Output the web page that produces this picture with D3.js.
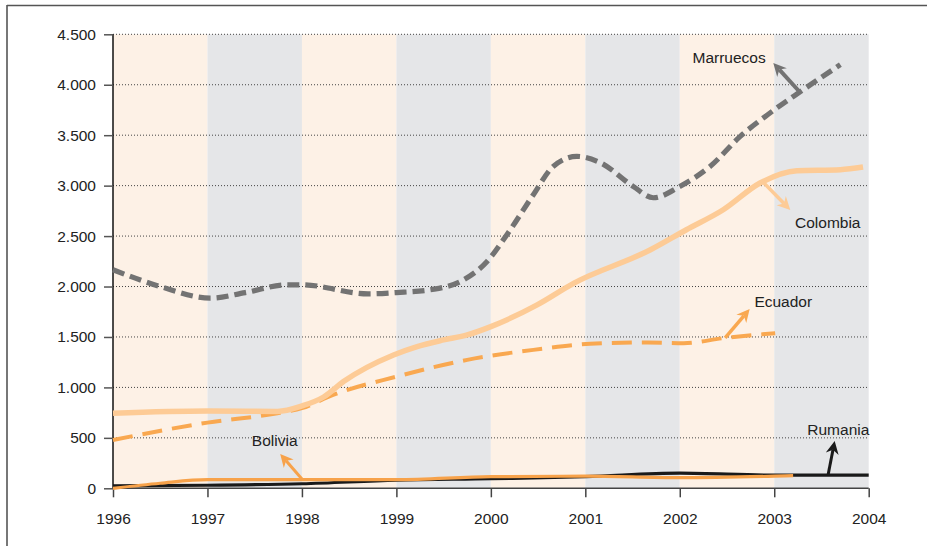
<!DOCTYPE html>
<html><head><meta charset="utf-8">
<script src="https://cdn.jsdelivr.net/npm/d3@7"></script>
<style>
html,body{margin:0;padding:0;background:#fff;}
svg{display:block;font-family:"Liberation Sans",Arial,sans-serif;}
</style></head>
<body><svg id="c" width="927" height="546"></svg>
<script>
// ---------- data ----------
const yTicks = [0,500,1000,1500,2000,2500,3000,3500,4000,4500];
const xTicks = [1996,1997,1998,1999,2000,2001,2002,2003,2004];

const marruecosYears  = [1996,1996.5,1997.03,1997.4,1997.84,1998.0,1998.7,1999.0,1999.4,1999.7,1999.96,2000.17,2000.45,2000.66,2000.91,2001.16,2001.51,2001.72,2002.0,2002.32,2002.64,2002.93,2003.28,2003.7];
const marruecosValues = [2166,2000,1885,1940,2017,2017,1927,1940,1974,2060,2248,2513,2910,3190,3290,3227,2990,2880,2992,3190,3488,3703,3934,4199];

const colombiaYears  = [1996,1997,1997.74,1998,1998.23,1998.44,1998.97,1999.22,1999.5,1999.75,2000.0,2000.49,2000.88,2001.69,2002.07,2002.46,2002.85,2003.24,2003.7,2003.94];
const colombiaValues = [745,767,762,816,905,1058,1322,1405,1471,1521,1603,1818,2034,2364,2563,2761,3026,3148,3158,3184];

const ecuadorYears  = [1996,1997,1997.74,1998,1998.33,1999.0,1999.75,2000.45,2001.05,2001.66,2002.04,2002.46,2003.01];
const ecuadorValues = [479,651,744,794,926,1107,1273,1372,1432,1445,1438,1488,1538];

const boliviaYears  = [1996,1996.5,1997,1998,1999,2000,2001,2002,2003,2003.2];
const boliviaValues = [0,50,85,85,85,115,120,105,120,125];

const rumaniaYears  = [1996,1997,1998,1999,2000,2001,2002,2003,2004];
const rumaniaValues = [25,30,45,80,95,115,150,130,130];

// annotations
const annoLabels = ["Marruecos","Colombia","Ecuador","Bolivia","Rumania"];
const annoFrom   = [[2003.27,3928],[2002.88,3036],[2002.48,1490],[1998.0,92],[2003.57,132]];
const annoTo     = [[2002.99,4216],[2003.17,2759],[2002.74,1778],[1997.77,340],[2003.64,469]];
const annoText   = [[2002.91,4216],[2003.22,2580],[2002.79,1799],[1997.47,419],[2003.35,529]];
const annoAnchor = ["end","start","start","start","start"];

// ---------- setup ----------
const svg = d3.select("#c");
const M = {left:113, right:868.7, top:34.3, bottom:488.3};
const x = d3.scaleLinear().domain([1996,2004]).range([M.left,M.right]);
const y = d3.scaleLinear().domain([0,4500]).range([M.bottom,M.top]);
const loc = d3.formatLocale({decimal:",",thousands:".",grouping:[3],currency:["","€"]});
const fmt = loc.format(",");
const FS = 15.5;

// frame
svg.append("line").attr("x1",7).attr("x2",927).attr("y1",5.5).attr("y2",5.5).attr("stroke","#555").attr("stroke-width",1.6);
svg.append("line").attr("x1",7).attr("x2",7).attr("y1",5).attr("y2",546).attr("stroke","#555").attr("stroke-width",1.6);

// bands
const bands = d3.range(1996,2004);
svg.append("g").selectAll("rect").data(bands).join("rect")
  .attr("x",d=>x(d)).attr("width",d=>x(d+1)-x(d))
  .attr("y",y(4500)).attr("height",y(0)-y(4500))
  .attr("fill",(d,i)=> i%2===0 ? "#fdf1e6" : "#e5e6e8");

// gridlines
svg.append("g").selectAll("line").data(yTicks.filter(d=>d>0)).join("line")
  .attr("x1",M.left).attr("x2",M.right).attr("y1",d=>y(d)).attr("y2",d=>y(d))
  .attr("stroke","#444").attr("stroke-width",1).attr("stroke-dasharray","1,2");

// axes
const yAxis = d3.axisLeft(y).tickValues(yTicks).tickFormat(fmt).tickSize(9).tickPadding(8);
const gy = svg.append("g").attr("transform",`translate(${M.left},0)`).call(yAxis);
gy.select(".domain").attr("stroke","#111").attr("stroke-width",1.5).attr("d",`M0,${y(4500)}V${y(0)}`);
gy.selectAll(".tick line").attr("stroke","#555").attr("stroke-width",1.5);
gy.selectAll(".tick text").attr("font-size",FS).attr("fill","#222").attr("font-family","Liberation Sans, Arial, sans-serif");

const xAxis = d3.axisBottom(x).tickValues(xTicks).tickFormat(d3.format("d")).tickSize(9).tickPadding(16);
const gx = svg.append("g").attr("transform",`translate(0,${M.bottom})`).call(xAxis);
gx.select(".domain").attr("stroke","#444").attr("stroke-width",1.5).attr("d",`M${M.left},0H${M.right}`);
gx.selectAll(".tick line").attr("stroke","#444").attr("stroke-width",1.5);
gx.selectAll(".tick text").attr("font-size",FS).attr("fill","#222").attr("font-family","Liberation Sans, Arial, sans-serif");

// lines
const lineGen = d3.line().x(d=>x(d[0])).y(d=>y(d[1])).curve(d3.curveMonotoneX);
const zip = (a,b)=>a.map((v,i)=>[v,b[i]]);
function drawLine(years, vals, color, width, dash){
  svg.append("path").datum(zip(years,vals)).attr("d",lineGen)
    .attr("fill","none").attr("stroke",color).attr("stroke-width",width)
    .attr("stroke-dasharray",dash||null).attr("stroke-linejoin","round");
}
drawLine(rumaniaYears, rumaniaValues, "#1a1a1a", 3.2);
drawLine(boliviaYears, boliviaValues, "#f7a24a", 3.2);
drawLine(ecuadorYears, ecuadorValues, "#f9a850", 4, "20,10");
drawLine(colombiaYears, colombiaValues, "#fdcb96", 5.5);
drawLine(marruecosYears, marruecosValues, "#737373", 5.2, "12,6");

// annotations
const annoColors = ["#737373","#fdcb96","#f9a850","#f7a24a","#1a1a1a"];
const annoWidths = [4,3.5,3.5,3,3];
annoLabels.forEach((lab,i)=>{
  const x0=x(annoFrom[i][0]), y0=y(annoFrom[i][1]);
  const x1=x(annoTo[i][0]), y1=y(annoTo[i][1]);
  const dx=x1-x0, dy=y1-y0, L=Math.hypot(dx,dy), ux=dx/L, uy=dy/L, px=-uy, py=ux;
  const hl=13, hw=6.5, notch=9;
  svg.append("line").attr("x1",x0).attr("y1",y0).attr("x2",x1-ux*notch).attr("y2",y1-uy*notch)
    .attr("stroke",annoColors[i]).attr("stroke-width",annoWidths[i]);
  const pts=[[x1,y1],[x1-ux*hl+px*hw,y1-uy*hl+py*hw],[x1-ux*notch,y1-uy*notch],[x1-ux*hl-px*hw,y1-uy*hl-py*hw]];
  svg.append("polygon").attr("points",pts.map(p=>p.join(",")).join(" ")).attr("fill",annoColors[i]);
  svg.append("text").attr("x",x(annoText[i][0])).attr("y",y(annoText[i][1]))
    .attr("text-anchor",annoAnchor[i]).attr("font-size",FS).attr("fill","#222").text(lab);
});
</script></body></html>
